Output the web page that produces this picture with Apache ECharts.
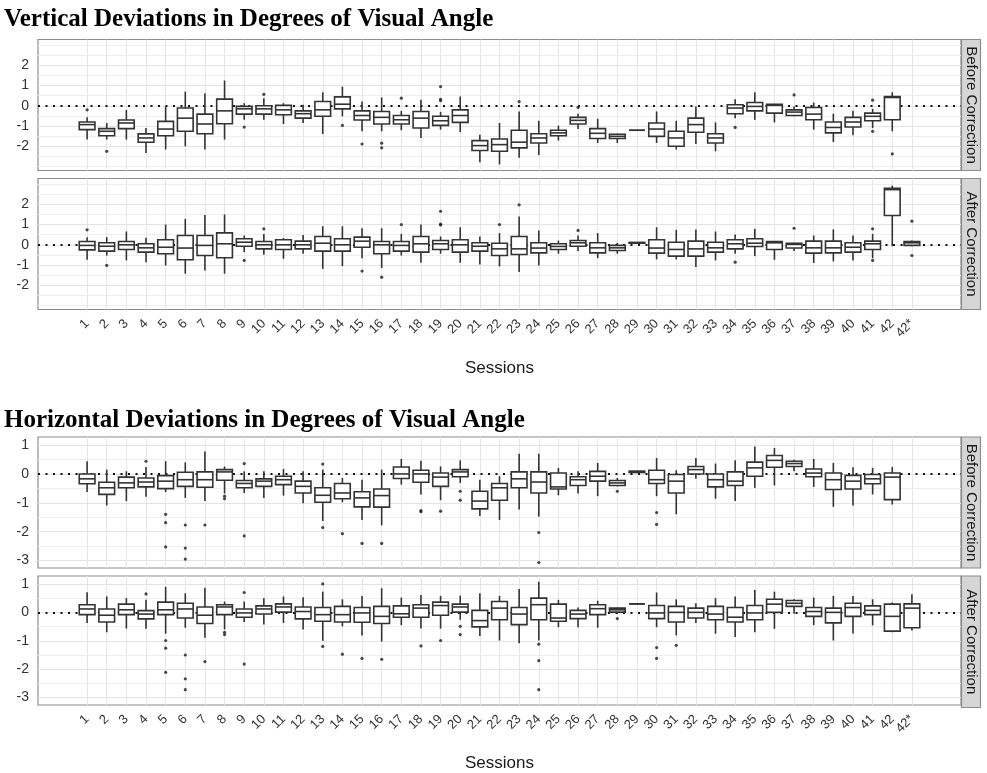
<!DOCTYPE html>
<html>
<head>
<meta charset="utf-8">
<script src="https://cdn.jsdelivr.net/npm/echarts@6/dist/echarts.min.js"></script>
<style>
html,body{margin:0;padding:0;background:#fff}
#chart{width:987px;height:773px}
</style>
</head>
<body>
<div id="chart"></div>
<script>
var sessions=['1','2','3','4','5','6','7','8','9','10','11','12','13','14','15','16','17','18','19','20',
  '21','22','23','24','25','26','27','28','29','30','31','32','33','34','35','36','37','38','39','40','41','42','42*'];

// [min, Q1, median, Q3, max] per session, null = no data
var vertBefore=[
 [-1.67,-1.18,-0.93,-0.80,-0.57],[-1.67,-1.48,-1.26,-1.13,-0.85],[-1.67,-1.13,-0.85,-0.70,-0.20],[-2.33,-1.80,-1.59,-1.39,-1.10],
 [-2.16,-1.48,-1.15,-0.77,-0.03],[-2.00,-1.26,-0.61,-0.11,0.70],[-2.16,-1.38,-0.90,-0.41,0.62],[-1.67,-0.89,-0.25,0.33,1.25],
 [-0.69,-0.41,-0.15,-0.03,0.13],[-0.69,-0.41,-0.15,0.00,0.38],[-0.90,-0.44,-0.20,0.02,0.13],[-0.85,-0.61,-0.39,-0.25,0.05],
 [-1.39,-0.52,-0.20,0.21,0.67],[-0.52,-0.15,0.08,0.44,0.95],[-1.26,-0.70,-0.48,-0.25,0.21],[-1.26,-0.90,-0.57,-0.28,0.41],
 [-1.21,-0.90,-0.69,-0.48,-0.25],[-1.59,-1.10,-0.61,-0.28,0.30],[-1.18,-0.97,-0.74,-0.52,-0.30],[-1.30,-0.82,-0.48,-0.20,0.46],
 [-2.79,-2.21,-1.97,-1.72,-1.43],[-2.90,-2.25,-1.92,-1.64,-0.85],[-2.57,-2.08,-1.80,-1.21,-0.28],[-2.44,-1.84,-1.59,-1.38,-0.74],
 [-1.72,-1.48,-1.34,-1.21,-0.98],[-1.15,-0.90,-0.72,-0.57,-0.39],[-1.84,-1.62,-1.36,-1.13,-0.64],[-1.84,-1.62,-1.51,-1.41,-1.38],
 [-1.21,-1.21,-1.21,-1.21,-1.21],[-1.84,-1.51,-1.15,-0.85,-0.28],[-2.16,-2.00,-1.59,-1.26,-0.74],[-1.89,-1.31,-0.93,-0.61,-0.03],
 [-2.25,-1.84,-1.59,-1.38,-0.82],[-0.61,-0.39,-0.11,0.05,0.33],[-0.69,-0.25,-0.03,0.16,0.67],[-0.82,-0.36,0.02,0.08,0.08],
 [-0.52,-0.48,-0.31,-0.20,-0.03],[-1.18,-0.69,-0.41,-0.08,0.16],[-1.79,-1.34,-1.07,-0.80,-0.39],[-1.46,-1.05,-0.80,-0.57,-0.25],
 [-1.10,-0.74,-0.52,-0.36,-0.15],[-1.26,-0.69,0.41,0.46,0.67],null];
var vertBeforeOut=[['1',-0.2],['2',-2.25],['9',-1.05],['10',0.57],['14',-0.97],['15',-1.89],['16',-1.85],['16',-2.08],
 ['17',0.38],['19',0.95],['19',0.32],['19',0.25],['23',0.21],['26',-0.08],['34',-1.07],['37',0.54],['41',0.28],['41',-1.26],['42',-2.38]];

var vertAfter=[
 [-0.74,-0.25,-0.03,0.16,0.38],[-0.53,-0.31,-0.07,0.10,0.38],[-0.77,-0.23,0.00,0.16,0.66],[-0.86,-0.36,-0.15,0.05,0.35],
 [-1.02,-0.44,-0.12,0.25,1.00],[-1.43,-0.74,-0.16,0.46,1.28],[-1.27,-0.53,-0.03,0.46,1.48],[-1.43,-0.64,0.05,0.59,1.50],
 [-0.36,-0.07,0.13,0.30,0.46],[-0.49,-0.20,0.00,0.16,0.54],[-0.69,-0.23,0.00,0.25,0.33],[-0.44,-0.20,0.00,0.18,0.49],
 [-1.19,-0.31,0.08,0.41,0.92],[-1.05,-0.31,0.00,0.30,0.92],[-0.66,-0.12,0.18,0.38,0.82],[-1.15,-0.44,0.00,0.16,0.82],
 [-0.53,-0.31,-0.03,0.16,0.54],[-0.89,-0.36,0.05,0.41,1.00],[-0.44,-0.23,0.05,0.21,0.41],[-0.89,-0.36,0.00,0.25,0.87],
 [-0.97,-0.31,-0.07,0.10,0.41],[-1.07,-0.53,-0.20,0.08,0.58],[-1.35,-0.48,-0.20,0.41,1.40],[-1.02,-0.40,-0.16,0.10,0.71],
 [-0.44,-0.23,-0.08,0.05,0.21],[-0.31,-0.07,0.10,0.21,0.46],[-0.66,-0.40,-0.15,0.10,0.58],[-0.44,-0.28,-0.15,-0.03,0.10],
 [0.05,0.08,0.10,0.12,0.13],[-0.72,-0.41,-0.16,0.25,0.87],[-0.72,-0.56,-0.23,0.13,0.74],[-1.10,-0.56,-0.20,0.18,0.76],
 [-0.77,-0.36,-0.15,0.13,0.66],[-0.44,-0.20,0.05,0.25,0.51],[-0.56,-0.08,0.08,0.30,0.79],[-0.74,-0.23,0.10,0.16,0.16],
 [-0.31,-0.16,0.02,0.08,0.10],[-0.90,-0.41,-0.15,0.18,0.46],[-0.82,-0.40,-0.15,0.18,0.76],[-0.77,-0.36,-0.12,0.10,0.46],
 [-0.66,-0.23,0.05,0.18,0.54],[-0.07,1.45,2.73,2.80,2.93],[-0.07,-0.03,0.10,0.16,0.21]];
var vertAfterOut=[['1',0.74],['2',-1.02],['9',-0.77],['10',0.79],['15',-1.30],['16',-1.60],['17',1.00],['19',1.66],['19',1.02],
 ['19',0.98],['22',1.00],['23',1.98],['26',0.71],['34',-0.86],['37',0.82],['41',0.79],['41',-0.77],['42*',1.17],['42*',-0.53]];

var horizBefore=[
 [-0.63,-0.34,-0.17,0.00,0.44],[-1.09,-0.71,-0.48,-0.29,0.15],[-0.94,-0.48,-0.31,-0.11,0.09],[-0.79,-0.45,-0.28,-0.14,0.24],
 [-0.63,-0.51,-0.25,-0.06,0.44],[-0.83,-0.43,-0.20,0.06,0.40],[-0.94,-0.46,-0.20,0.07,0.78],[-0.68,-0.22,0.07,0.15,0.26],
 [-0.66,-0.48,-0.33,-0.23,0.09],[-0.83,-0.43,-0.25,-0.17,0.09],[-0.75,-0.37,-0.20,-0.08,0.17],[-1.02,-0.66,-0.43,-0.25,0.09],
 [-1.63,-0.98,-0.74,-0.48,0.15],[-0.98,-0.86,-0.66,-0.33,-0.14],[-1.60,-1.14,-0.83,-0.62,-0.20],[-1.78,-1.15,-0.75,-0.52,0.15],
 [-0.37,-0.16,0.00,0.24,0.52],[-0.71,-0.29,0.00,0.13,0.46],[-0.91,-0.43,-0.11,0.03,0.26],[-0.31,-0.10,0.07,0.15,0.47],
 [-1.46,-1.21,-0.94,-0.60,-0.20],[-1.60,-0.91,-0.48,-0.33,-0.08],[-1.23,-0.48,-0.17,0.07,0.70],[-1.48,-0.66,-0.28,0.07,0.70],
 [-0.74,-0.52,-0.45,0.03,0.21],[-0.68,-0.40,-0.20,-0.10,0.09],[-0.77,-0.25,-0.08,0.09,0.38],[-0.43,-0.40,-0.31,-0.23,-0.14],
 [0.03,0.05,0.09,0.09,0.09],[-0.77,-0.33,-0.20,0.13,0.55],[-1.40,-0.66,-0.25,-0.02,0.13],[-0.17,0.00,0.15,0.26,0.55],
 [-0.86,-0.45,-0.20,0.00,0.36],[-0.94,-0.40,-0.25,0.07,0.47],[-0.48,-0.08,0.21,0.41,0.95],[-0.40,0.23,0.47,0.64,0.90],
 [0.09,0.26,0.36,0.44,0.49],[-0.45,-0.10,0.03,0.17,0.52],[-1.14,-0.54,-0.20,0.03,0.38],[-1.09,-0.52,-0.25,-0.05,0.23],
 [-0.71,-0.34,-0.17,-0.02,0.21],[-1.06,-0.89,-0.11,0.03,0.24],null];
var horizBeforeOut=[['4',0.44],['5',-1.40],['5',-1.69],['5',-2.53],['6',-1.77],['6',-2.57],['6',-2.95],['7',-1.77],['8',-0.77],
 ['8',-0.86],['9',0.36],['9',-2.15],['13',0.34],['13',-1.86],['14',-2.07],['15',-2.41],['16',-2.41],['18',-1.27],['18',-1.31],
 ['19',-1.29],['20',-0.60],['20',-0.91],['24',-2.03],['24',-3.07],['28',-0.60],['30',-1.34],['30',-1.75]];

var horizAfter=[
 [-0.37,-0.08,0.12,0.27,0.71],[-0.70,-0.34,-0.10,0.12,0.56],[-0.57,-0.08,0.09,0.29,0.50],[-0.58,-0.23,-0.06,0.06,0.44],
 [-0.75,-0.08,0.09,0.36,0.90],[-0.54,-0.20,0.12,0.32,0.67],[-0.89,-0.39,-0.10,0.19,0.87],[-0.60,-0.08,0.19,0.27,0.38],
 [-0.34,-0.17,-0.02,0.12,0.38],[-0.43,-0.06,0.12,0.23,0.50],[-0.37,0.01,0.19,0.30,0.56],[-0.60,-0.23,0.03,0.19,0.53],
 [-1.00,-0.31,-0.08,0.17,0.73],[-0.49,-0.34,-0.08,0.21,0.46],[-0.81,-0.35,-0.02,0.17,0.58],[-1.03,-0.39,-0.14,0.21,0.85],
 [-0.45,-0.17,-0.05,0.23,0.52],[-0.57,-0.17,0.15,0.27,0.61],[-0.57,-0.10,0.24,0.36,0.58],[-0.26,0.01,0.19,0.29,0.59],
 [-0.83,-0.51,-0.29,0.07,0.67],[-0.99,-0.26,0.15,0.38,0.58],[-1.09,-0.43,-0.06,0.17,0.82],[-0.99,-0.26,0.27,0.50,1.08],
 [-0.52,-0.31,-0.20,0.29,0.44],[-0.52,-0.22,-0.06,0.07,0.17],[-0.54,-0.08,0.13,0.27,0.41],[-0.05,0.01,0.09,0.15,0.17],
 [0.30,0.30,0.30,0.30,0.30],[-0.52,-0.22,-0.02,0.24,0.70],[-0.81,-0.34,0.00,0.21,0.46],[-0.37,-0.20,0.00,0.15,0.32],
 [-0.75,-0.26,-0.06,0.21,0.50],[-0.87,-0.34,-0.17,0.17,0.56],[-0.70,-0.26,-0.02,0.24,0.79],[-0.58,0.00,0.29,0.46,0.73],
 [-0.05,0.21,0.32,0.42,0.46],[-0.45,-0.14,0.03,0.17,0.52],[-0.99,-0.37,0.00,0.15,0.58],[-0.74,-0.14,0.17,0.32,0.58],
 [-0.46,-0.08,0.07,0.23,0.46],[-0.70,-0.66,-0.14,0.29,0.35],[-0.64,-0.54,0.15,0.30,0.64]];
var horizAfterOut=[['4',0.65],['5',-0.99],['5',-1.26],['5',-2.11],['6',-1.50],['6',-2.34],['6',-2.72],['7',-1.73],['8',-0.70],
 ['8',-0.78],['9',0.70],['9',-1.82],['13',1.00],['13',-1.20],['14',-1.47],['15',-1.62],['16',-1.65],['18',-1.18],['19',-0.99],
 ['20',-0.49],['20',-0.78],['24',-1.12],['24',-1.70],['24',-2.72],['28',-0.22],['30',-1.24],['30',-1.62],['31',-1.16]];

var vertTicks=[-2,-1,0,1,2];
var vertMinor=[-3,-2.5,-1.5,-0.5,0.5,1.5,2.5,3];
var horizTicks=[-3,-2,-1,0,1];
var horizMinor=[-2.5,-1.5,-0.5,0.5];
var vertLim=[-3.2,3.28];
var horizLim=[-3.26,1.28];

var panels=[
  {box:vertBefore,out:vertBeforeOut,ticks:vertTicks,minor:vertMinor,lim:vertLim,strip:'Before Correction',top:39.5,h:131,bottom:false},
  {box:vertAfter,out:vertAfterOut,ticks:vertTicks,minor:vertMinor,lim:vertLim,strip:'After Correction',top:178.5,h:131,bottom:true},
  {box:horizBefore,out:horizBeforeOut,ticks:horizTicks,minor:horizMinor,lim:horizLim,strip:'Before Correction',top:437,h:131,bottom:false},
  {box:horizAfter,out:horizAfterOut,ticks:horizTicks,minor:horizMinor,lim:horizLim,strip:'After Correction',top:576,h:131.5,bottom:true}
];

var idx=sessions.map(function(s,i){return i;});
var SANS='Liberation Sans';
var LINE='#333';

function renderBox(params,api){
  var x=api.value(0);
  var lo=api.coord([x,api.value(1)]);
  var q1=api.coord([x,api.value(2)]);
  var md=api.coord([x,api.value(3)]);
  var q3=api.coord([x,api.value(4)]);
  var hi=api.coord([x,api.value(5)]);
  var hw=api.size([1,0])[0]*0.4;
  var cx=lo[0];
  var st={stroke:LINE,lineWidth:1.6};
  return {type:'group',children:[
    {type:'line',shape:{x1:cx,y1:hi[1],x2:cx,y2:q3[1]},style:st},
    {type:'line',shape:{x1:cx,y1:q1[1],x2:cx,y2:lo[1]},style:st},
    {type:'rect',shape:{x:cx-hw,y:q3[1],width:hw*2,height:q1[1]-q3[1]},style:{fill:'#fff',stroke:LINE,lineWidth:1.6}},
    {type:'line',shape:{x1:cx-hw,y1:md[1],x2:cx+hw,y2:md[1]},style:st}
  ]};
}

var grids=[],xAxes=[],yAxes=[],series=[],graphics=[];
panels.forEach(function(p,i){
  grids.push({left:38,right:26,top:p.top,height:p.h,show:true,borderColor:'#8c8c8c',borderWidth:1.2,backgroundColor:'#fff'});
  xAxes.push({
    type:'value',gridIndex:i,min:-2.5,max:44.5,
    axisLine:{show:false},
    axisTick:{show:p.bottom,customValues:idx,length:6,lineStyle:{color:'#444'}},
    axisLabel:{show:p.bottom,customValues:idx,rotate:45,margin:12,fontSize:13,fontFamily:SANS,color:'#333',
      formatter:function(v){return sessions[Math.round(v)]||'';}},
    splitLine:{show:false},
    name:p.bottom?'Sessions':'',nameLocation:'middle',nameGap:50,
    nameTextStyle:{fontSize:17,fontFamily:SANS,color:'#1a1a1a'}
  });
  yAxes.push({
    type:'value',gridIndex:i,min:p.lim[0],max:p.lim[1],
    axisLine:{show:false},
    axisTick:{show:true,customValues:p.ticks,length:5,lineStyle:{color:'#444'}},
    axisLabel:{customValues:p.ticks,margin:9,fontSize:14,fontFamily:SANS,color:'#333'},
    splitLine:{show:false}
  });

  var ml=[];
  p.minor.forEach(function(v){ml.push({yAxis:v,lineStyle:{color:'#eeeeee',width:1,type:'solid'}});});
  p.ticks.forEach(function(v){ml.push({yAxis:v,lineStyle:{color:'#e4e4e4',width:1,type:'solid'}});});
  idx.forEach(function(v){ml.push({xAxis:v,lineStyle:{color:'#e6e6e6',width:1,type:'solid'}});});
  ml.push({yAxis:0,lineStyle:{color:'#111',width:1.8,type:[2,5.5]}});
  series.push({
    type:'line',xAxisIndex:i,yAxisIndex:i,data:[],z:1,silent:true,
    markLine:{silent:true,z:1,symbol:['none','none'],label:{show:false},emphasis:{disabled:true},animation:false,data:ml}
  });

  var boxData=[];
  p.box.forEach(function(b,k){ if(b) boxData.push([k].concat(b)); });
  series.push({
    type:'custom',xAxisIndex:i,yAxisIndex:i,z:3,silent:true,
    renderItem:renderBox,encode:{x:0,y:[1,2,3,4,5]},data:boxData
  });
  series.push({
    type:'scatter',xAxisIndex:i,yAxisIndex:i,z:4,silent:true,symbolSize:3.2,
    itemStyle:{color:'#1a1a1a'},
    data:p.out.map(function(o){return [sessions.indexOf(o[0]),o[1]];})
  });

  graphics.push({type:'rect',shape:{x:961.5,y:p.top,width:19,height:p.h},
    style:{fill:'#d6d6d6',stroke:'#8c8c8c',lineWidth:1.2}});
  graphics.push({type:'text',x:971,y:p.top+p.h/2,rotation:-Math.PI/2,
    style:{text:p.strip,font:'15px "Liberation Sans"',textAlign:'center',textVerticalAlign:'middle',fill:'#1a1a1a'}});
});

var chart=echarts.init(document.getElementById('chart'));
chart.setOption({
  animation:false,
  backgroundColor:'#fff',
  title:[
    {text:'Vertical Deviations in Degrees of Visual Angle',left:4,top:7,padding:0,
     textStyle:{fontFamily:'Liberation Serif',fontWeight:'bold',fontSize:25,color:'#000'}},
    {text:'Horizontal Deviations in Degrees of Visual Angle',left:4,top:408,padding:0,
     textStyle:{fontFamily:'Liberation Serif',fontWeight:'bold',fontSize:25,color:'#000'}}
  ],
  grid:grids,xAxis:xAxes,yAxis:yAxes,series:series,graphic:graphics
});
</script>
</body>
</html>
